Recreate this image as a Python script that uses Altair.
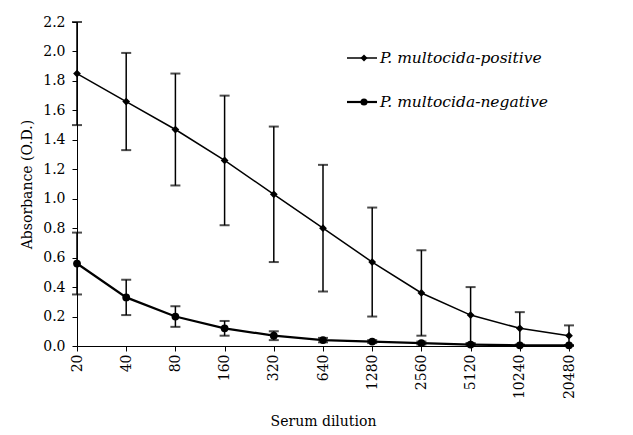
import altair as alt
import pandas as pd

dilutions = ["20", "40", "80", "160", "320", "640", "1280", "2560", "5120", "10240", "20480"]
pos_mean = [1.85, 1.66, 1.47, 1.26, 1.03, 0.80, 0.57, 0.36, 0.21, 0.12, 0.07]
pos_err = [0.35, 0.33, 0.38, 0.44, 0.46, 0.43, 0.37, 0.29, 0.19, 0.11, 0.07]
neg_mean = [0.56, 0.33, 0.20, 0.12, 0.07, 0.04, 0.03, 0.02, 0.01, 0.005, 0.005]
neg_err = [0.21, 0.12, 0.07, 0.05, 0.03, 0.015, 0.01, 0.01, 0.005, 0.0, 0.0]
series_names = ["P. multocida-positive", "P. multocida-negative"]
y_ticks = [0.0, 0.2, 0.4, 0.6, 0.8, 1.0, 1.2, 1.4, 1.6, 1.8, 2.0, 2.2]

rows = []
for name, means, errs in [(series_names[0], pos_mean, pos_err), (series_names[1], neg_mean, neg_err)]:
    for d, m, e in zip(dilutions, means, errs):
        rows.append({"dilution": d, "series": name, "mean": m,
                     "lo": max(m - e, 0), "hi": m + e})
df = pd.DataFrame(rows)

FONT = "DejaVu Serif"

x = alt.X("dilution:N", sort=dilutions, scale=alt.Scale(type="point", padding=0),
          axis=alt.Axis(title="Serum dilution", labelAngle=-90, titlePadding=16,
                        labelBaseline="middle", labelAlign="right", labelPadding=3))
y_scale = alt.Scale(domain=[0, 2.2], nice=False)
y_axis = alt.Axis(title="Absorbance (O.D.)", values=y_ticks,
                  format=".1f", titlePadding=8, labelPadding=7, labelOverlap=False)


def Y(field):
    return alt.Y(field, type="quantitative", scale=y_scale, axis=y_axis, title="Absorbance (O.D.)")


base = alt.Chart(df)
width_sw = alt.Scale(domain=series_names, range=[1.5, 2.2])
shape_sc = alt.Scale(domain=series_names, range=["diamond", "circle"])

rules = base.mark_rule(color="black", strokeWidth=1.5).encode(x=x, y=Y("lo"), y2="hi:Q")
caps_hi = base.mark_tick(color="black", thickness=2, size=10, orient="horizontal").encode(x=x, y=Y("hi"))
caps_lo = base.mark_tick(color="black", thickness=2, size=10, orient="horizontal").encode(x=x, y=Y("lo"))
lines = base.mark_line(color="black").encode(
    x=x, y=Y("mean"), detail="series:N",
    strokeWidth=alt.StrokeWidth("series:N", scale=width_sw, legend=None))
points = base.mark_point(color="black", filled=True, opacity=1, size=60).encode(
    x=x, y=Y("mean"), shape=alt.Shape("series:N", scale=shape_sc, legend=None))

legend_layers = []
for i, (name, ypix) in enumerate(zip(series_names, [36, 80])):
    lb = alt.Chart(pd.DataFrame({"series": [name]}))
    legend_layers.append(lb.mark_rule(color="black").encode(
        x=alt.value(270), x2=alt.value(300), y=alt.value(ypix),
        strokeWidth=alt.StrokeWidth("series:N", scale=width_sw, legend=None)))
    legend_layers.append(lb.mark_point(color="black", filled=True, opacity=1, size=50).encode(
        x=alt.value(287), y=alt.value(ypix),
        shape=alt.Shape("series:N", scale=shape_sc, legend=None)))
    legend_layers.append(lb.mark_text(align="left", baseline="middle", font=FONT, fontSize=15.5,
                                      fontStyle="italic", color="black").encode(
        x=alt.value(303), y=alt.value(ypix), text="series:N"))

chart = alt.layer(rules, caps_hi, caps_lo, lines, points, *legend_layers).properties(
    width=492, height=324, padding={"left": 12, "top": 7, "right": 5, "bottom": 5}
).configure(background="white").configure_view(stroke=None).configure_axis(
    labelFont=FONT, labelFontSize=14, titleFont=FONT, titleFontSize=14, titleFontWeight="normal",
    domainColor="black", tickColor="black", labelColor="black", titleColor="black",
    grid=False, tickSize=5, labelOverlap=False
)

chart.save("out.html", embed_options={"renderer": "svg", "actions": False})
